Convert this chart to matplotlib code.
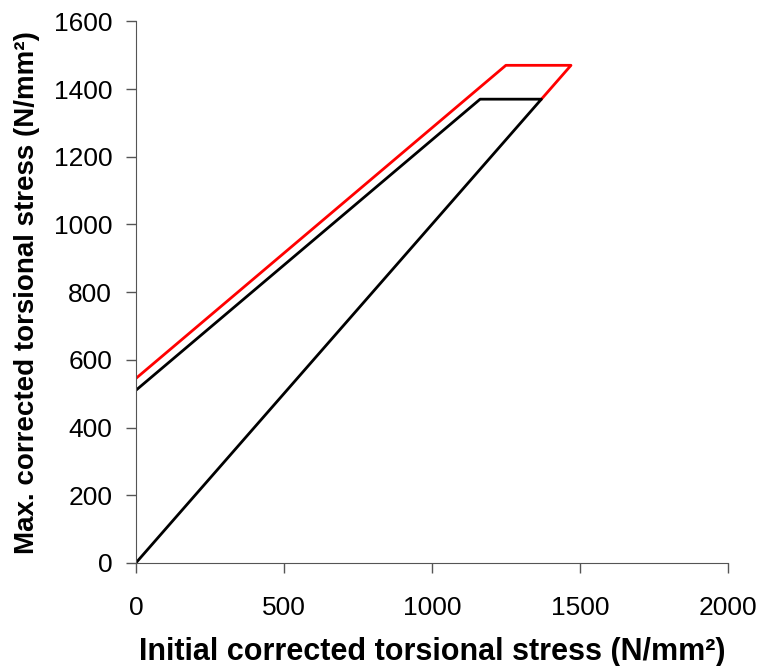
import matplotlib.pyplot as plt

# Envelope corner points (N/mm²)
upper_x = [0, 1250, 1470, 1370]
upper_y = [545, 1470, 1470, 1370]
lower_x = [0, 1163, 1370, 0]
lower_y = [510, 1370, 1370, 0]

plt.rcParams['font.family'] = ['Liberation Sans', 'DejaVu Sans']

fig = plt.figure(figsize=(7.59, 6.66), dpi=100)
ax = fig.add_axes([0.179, 0.1547, 0.78, 0.8133])

ax.plot(upper_x, upper_y, color='#ff0000', linewidth=2)
ax.plot(lower_x, lower_y, color='black', linewidth=2)

ax.set_xlim(0, 2000)
ax.set_ylim(0, 1600)
ax.set_xticks(range(0, 2001, 500))
ax.set_yticks(range(0, 1601, 200))
ax.tick_params(labelsize=19, direction='out', length=7, width=1, color='#555555')
ax.tick_params(axis='x', pad=17)
ax.tick_params(axis='y', pad=10)
for side in ('top', 'right'):
    ax.spines[side].set_visible(False)
for side in ('left', 'bottom'):
    ax.spines[side].set_color('#555555')

ax.set_xlabel('Initial corrected torsional stress (N/mm²)', fontsize=22, fontweight='bold', labelpad=12)
ax.set_ylabel('Max. corrected torsional stress (N/mm²)', fontsize=20, fontweight='bold', labelpad=10)

fig.savefig('out.png', dpi=100)
